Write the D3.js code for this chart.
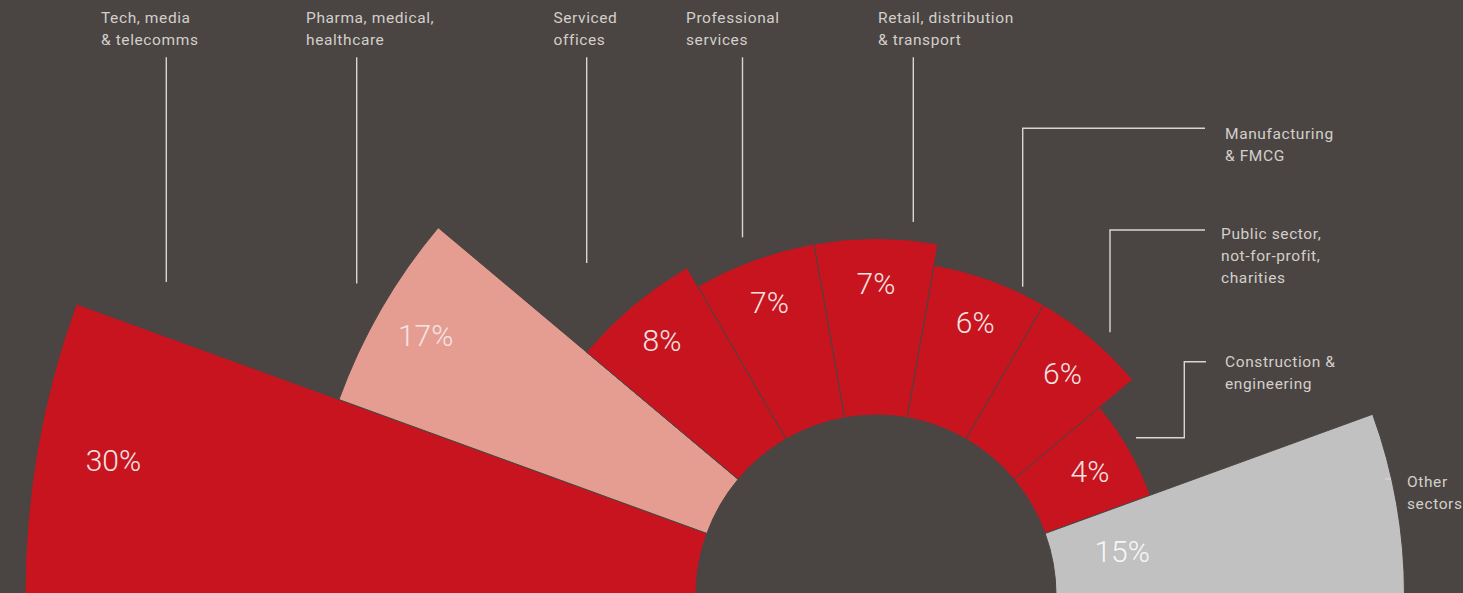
<!DOCTYPE html>
<html>
<head>
<meta charset="utf-8">
<script src="https://cdn.jsdelivr.net/npm/d3@7"></script>
<style>
  html, body { margin: 0; padding: 0; background: #4a4542; }
  svg { display: block; }
</style>
</head>
<body>
<svg id="chart" width="1463" height="593"></svg>
<script>
// Occupier mix by business sector (share of total, %)
const sectors = [
  "Tech, media & telecomms",
  "Pharma, medical, healthcare",
  "Serviced offices",
  "Professional services",
  "Retail, distribution & transport",
  "Manufacturing & FMCG",
  "Public sector, not-for-profit, charities",
  "Construction & engineering",
  "Other sectors"
];
const shares = [30, 17, 8, 7, 7, 6, 6, 4, 15];

// Line breaks used for the sector call-outs
const sectorLines = [
  ["Tech, media", "& telecomms"],
  ["Pharma, medical,", "healthcare"],
  ["Serviced", "offices"],
  ["Professional", "services"],
  ["Retail, distribution", "& transport"],
  ["Manufacturing", "& FMCG"],
  ["Public sector,", "not-for-profit,", "charities"],
  ["Construction &", "engineering"],
  ["Other", "sectors"]
];

const data = sectors.map((s, i) => ({ sector: s, share: shares[i], lines: sectorLines[i], index: i }));

const W = 1463, H = 593;
const cx = 876, cy = 595;
const innerR = 180;
const BG = "#4a4542";

const svg = d3.select("#chart");
svg.append("rect").attr("width", W).attr("height", H).attr("fill", BG);

// Each sector gets an equal wedge of the half circle; the share sets the wedge length
const angle = d3.scaleBand()
  .domain(sectors)
  .range([-Math.PI / 2, Math.PI / 2])
  .paddingInner(0);

const radius = d3.scaleLinear()
  .domain([0, 30])
  .range([206, 851]);

const fill = d3.scaleOrdinal()
  .domain(sectors)
  .range(["#c8141f", "#e59d92", "#c8141f", "#c8141f", "#c8141f", "#c8141f", "#c8141f", "#c8141f", "#c1c1c1"]);

const arc = d3.arc()
  .innerRadius(innerR)
  .outerRadius(d => radius(d.share))
  .startAngle(d => angle(d.sector))
  .endAngle(d => angle(d.sector) + angle.bandwidth());

const rose = svg.append("g").attr("transform", `translate(${cx},${cy})`);

rose.selectAll("path.wedge")
  .data(data)
  .join("path")
  .attr("class", "wedge")
  .attr("d", arc)
  .attr("fill", d => fill(d.sector))
  .attr("stroke", BG)
  .attr("stroke-width", 1);

// Share labels: near the outer edge, except the residual group which sits near the hub
const hubLabelled = new Set(["Other sectors"]);
const labelRadius = d => {
  if (hubLabelled.has(d.sector)) return innerR + 70;
  const r = radius(d.share);
  return r - Math.max(45, 0.09 * r);
};

rose.selectAll("text.share")
  .data(data)
  .join("text")
  .attr("class", "share")
  .attr("x", d => Math.sin(angle(d.sector) + angle.bandwidth() / 2) * labelRadius(d))
  .attr("y", d => -Math.cos(angle(d.sector) + angle.bandwidth() / 2) * labelRadius(d))
  .attr("dy", "0.36em")
  .attr("text-anchor", "middle")
  .attr("font-family", "Roboto, 'Open Sans', sans-serif")
  .attr("font-weight", 300)
  .attr("font-size", 30)
  .attr("fill", d => hubLabelled.has(d.sector) ? "#f7f7f7" : "#f4e4e4")
  .text(d => d.share + "%");

// Call-out placement (text anchor and leader path) for each sector
const callouts = [
  { tx: 101,  ty: 22.7,  leader: [[166.3, 57.3], [166.3, 282]] },
  { tx: 306,  ty: 22.7,  leader: [[356.7, 57.3], [356.7, 283.5]] },
  { tx: 553.5, ty: 22.7, leader: [[586.7, 57.3], [586.7, 263]] },
  { tx: 686,  ty: 22.7,  leader: [[742.5, 57.3], [742.5, 237.3]] },
  { tx: 878,  ty: 22.7,  leader: [[913.3, 57.3], [913.3, 222]] },
  { tx: 1225, ty: 138.5, leader: [[1205, 128.3], [1022.7, 128.3], [1022.7, 286.7]] },
  { tx: 1221, ty: 239,   leader: [[1205, 230], [1110, 230], [1110, 332.3]] },
  { tx: 1225, ty: 367,   leader: [[1206, 361.7], [1184.3, 361.7], [1184.3, 437.7], [1136, 437.7]] },
  { tx: 1407, ty: 487,   leader: [[1391, 479], [1361, 479]] }
];

// Keep the side leader of a wedge clear of that wedge's outer edge
function clearLeader(d, pts) {
  const last = pts[pts.length - 1];
  const first = pts[0];
  if (first[1] === last[1] && pts.length === 2) {
    const dy = cy - last[1];
    const R = radius(d.share) + 8;
    if (R > Math.abs(dy)) {
      const edgeX = cx + Math.sqrt(R * R - dy * dy);
      const x1 = Math.min(Math.max(last[0], edgeX), first[0] - 6);
      return [first, [x1, last[1]]];
    }
  }
  return pts;
}

const line = d3.line();
const notes = svg.append("g");

notes.selectAll("path.leader")
  .data(data)
  .join("path")
  .attr("class", "leader")
  .attr("d", d => line(clearLeader(d, callouts[d.index].leader)))
  .attr("fill", "none")
  .attr("stroke", "#d8d6d4")
  .attr("stroke-width", 1.4);

notes.selectAll("text.sector")
  .data(data)
  .join("text")
  .attr("class", "sector")
  .attr("x", d => callouts[d.index].tx)
  .attr("y", d => callouts[d.index].ty)
  .attr("font-family", "Roboto, 'Open Sans', sans-serif")
  .attr("font-size", 15.5)
  .attr("letter-spacing", 0.6)
  .attr("fill", "#d3cfcb")
  .each(function (d) {
    d3.select(this).selectAll("tspan")
      .data(d.lines)
      .join("tspan")
      .attr("x", callouts[d.index].tx)
      .attr("dy", (t, i) => i === 0 ? 0 : 22)
      .text(t => t);
  });
</script>
</body>
</html>
